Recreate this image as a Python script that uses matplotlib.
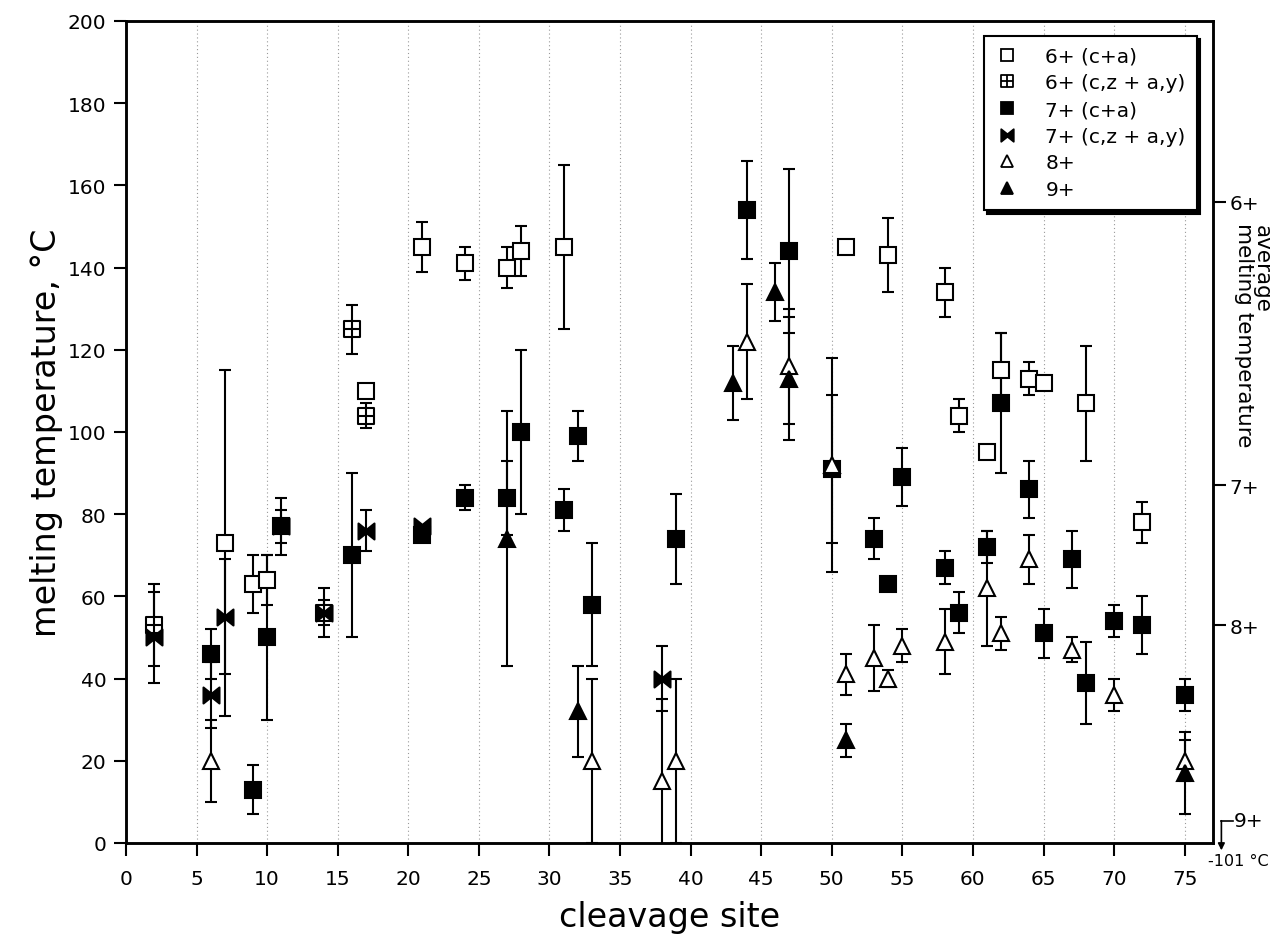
import matplotlib
matplotlib.use("Agg")
import matplotlib.pyplot as plt
from matplotlib.path import Path
from matplotlib.lines import Line2D

plt.rcParams["font.family"] = ["DejaVu Sans"]

# cleavage site / melting temperature (deg C) / error
sq6_x = [7, 9, 10, 17, 21, 24, 27, 28, 31, 51, 54, 58, 59, 61, 62, 64, 65, 68, 72]
sq6_y = [73, 63, 64, 110, 145, 141, 140, 144, 145, 145, 143, 134, 104, 95, 115, 113, 112, 107, 78]
sq6_err = [42, 7, 6, 0, 6, 4, 5, 6, 20, 0, 9, 6, 4, 0, 9, 4, 0, 14, 5]

cross6_x = [2, 14, 16, 17]
cross6_y = [53, 56, 125, 104]
cross6_err = [10, 6, 6, 3]

sq7_x = [6, 9, 10, 11, 16, 21, 24, 27, 28, 31, 32, 33, 39, 44, 47, 50, 53, 54, 55,
         58, 59, 61, 62, 64, 65, 67, 68, 70, 72, 75]
sq7_y = [46, 13, 50, 77, 70, 75, 84, 84, 100, 81, 99, 58, 74, 154, 144, 91, 74, 63, 89,
         67, 56, 72, 107, 86, 51, 69, 39, 54, 53, 36]
sq7_err = [6, 6, 20, 7, 20, 0, 3, 9, 20, 5, 6, 15, 11, 12, 20, 18, 5, 0, 7,
           4, 5, 4, 17, 7, 6, 7, 10, 4, 7, 4]

bow7_x = [2, 6, 7, 11, 14, 17, 21, 38]
bow7_y = [50, 36, 55, 77, 56, 76, 77, 40]
bow7_err = [11, 8, 14, 4, 3, 5, 0, 8]

tri8_x = [6, 33, 38, 39, 44, 47, 50, 51, 53, 54, 55, 58, 61, 62, 64, 67, 70, 75]
tri8_y = [20, 20, 15, 20, 122, 116, 92, 41, 45, 40, 48, 49, 62, 51, 69, 47, 36, 20]
tri8_err = [10, 20, 20, 20, 14, 14, 26, 5, 8, 2, 4, 8, 14, 4, 6, 3, 4, 5]

tri9_x = [27, 32, 43, 46, 47, 51, 75]
tri9_y = [74, 32, 112, 134, 113, 25, 17]
tri9_err = [31, 11, 9, 7, 15, 4, 10]

labels = ["6+ (c+a)", "6+ (c,z + a,y)", "7+ (c+a)", "7+ (c,z + a,y)", "8+", "9+"]

# right axis: average melting temperature of each charge state
avg_pos = [156, 87, 53]
avg_labels = ["6+", "7+", "8+"]


# square with a cross inside
crossed_square = Path(
    [(-1, -1), (1, -1), (1, 1), (-1, 1), (-1, -1), (0, -1), (0, 1), (-1, 0), (1, 0)],
    [Path.MOVETO, Path.LINETO, Path.LINETO, Path.LINETO, Path.CLOSEPOLY,
     Path.MOVETO, Path.LINETO, Path.MOVETO, Path.LINETO],
)
# bow tie
bowtie = Path(
    [(-1, 1), (0, 0.2), (1, 1), (1, -1), (0, -0.2), (-1, -1), (-1, 1)],
    [Path.MOVETO] + [Path.LINETO] * 5 + [Path.CLOSEPOLY],
)

styles = [
    dict(marker="s", mfc="white"),
    dict(marker=crossed_square, mfc="white"),
    dict(marker="s", mfc="black"),
    dict(marker=bowtie, mfc="black"),
    dict(marker="^", mfc="white"),
    dict(marker="^", mfc="black"),
]
series = [
    (sq6_x, sq6_y, sq6_err),
    (cross6_x, cross6_y, cross6_err),
    (sq7_x, sq7_y, sq7_err),
    (bow7_x, bow7_y, bow7_err),
    (tri8_x, tri8_y, tri8_err),
    (tri9_x, tri9_y, tri9_err),
]

fig = plt.figure(figsize=(12.71, 9.37), dpi=100)
ax = fig.add_axes([0.0991, 0.0993, 0.8552, 0.8773])

for (x, y, e), st in zip(series, styles):
    ax.errorbar(x, y, yerr=e, fmt="none", ecolor="black", elinewidth=1.5,
                capsize=4, capthick=1.5, zorder=2)
for (x, y, e), st in zip(series, styles):
    ax.plot(x, y, ls="none", ms=11.5, mec="black", mew=1.5, zorder=3, **st)

ax.set_xlim(0, 77)
ax.set_ylim(0, 200)
ax.set_xticks(range(0, 80, 5))
ax.set_yticks(range(0, 201, 20))
ax.tick_params(axis="both", direction="out", length=9, width=1.5, labelsize=14.5)
ax.tick_params(axis="x", pad=10)
ax.tick_params(axis="y", pad=5)
ax.grid(axis="x", color="#9a9a9a", ls=(0, (1, 2.5)), lw=0.8)
ax.set_axisbelow(True)
for sp in ax.spines.values():
    sp.set_linewidth(1.8)

ax.set_xlabel("cleavage site", fontsize=24)
ax.xaxis.set_label_coords(0.5, -0.07)
ax.set_ylabel("melting temperature, °C", fontsize=24)
ax.yaxis.set_label_coords(-0.058, 0.5)

# right-hand axis with charge-state averages
ax2 = ax.twinx()
ax2.set_ylim(0, 200)
ax2.set_xlim(0, 77)
ax2.set_yticks(avg_pos)
ax2.set_yticklabels(avg_labels)
ax2.tick_params(axis="y", direction="out", length=9, width=1.5, labelsize=14.5, pad=3)
for sp in ax2.spines.values():
    sp.set_linewidth(1.8)
ax2.text(80.45, 150.5, "average", rotation=270, ha="center", va="top", fontsize=15.5)
ax2.text(79.2, 151, "melting temperature", rotation=270, ha="center", va="top",
         fontsize=15.5)

# 9+ is off the scale
ax2.plot([77.6, 78.4], [5.4, 5.4], color="black", lw=1.2, clip_on=False)
ax2.annotate("", xy=(77.6, -1.8), xytext=(77.6, 5.4), annotation_clip=False,
             arrowprops=dict(arrowstyle="-|>", color="black", lw=1.2,
                             mutation_scale=10, shrinkA=0, shrinkB=0))
ax2.text(78.5, 5.4, "9+", ha="left", va="center", fontsize=14.5, clip_on=False)
ax2.text(78.8, -4.2, "-101 °C", ha="center", va="center", fontsize=11.5, clip_on=False)

handles = [Line2D([], [], ls="none", ms=9, mec="black", mew=1.3, **st) for st in styles]
leg = ax.legend(handles, labels, loc="upper right", bbox_to_anchor=(0.985, 0.982),
                fontsize=14.5, fancybox=False, edgecolor="black", framealpha=1,
                borderpad=0.55, labelspacing=0.38, handlelength=1.2, handletextpad=1.3,
                borderaxespad=0,
                shadow={"ox": 2.5, "oy": -2.5, "color": "black", "alpha": 1})
leg.get_frame().set_linewidth(1.5)
leg.set_zorder(5)

fig.savefig("out.png", dpi=100)
